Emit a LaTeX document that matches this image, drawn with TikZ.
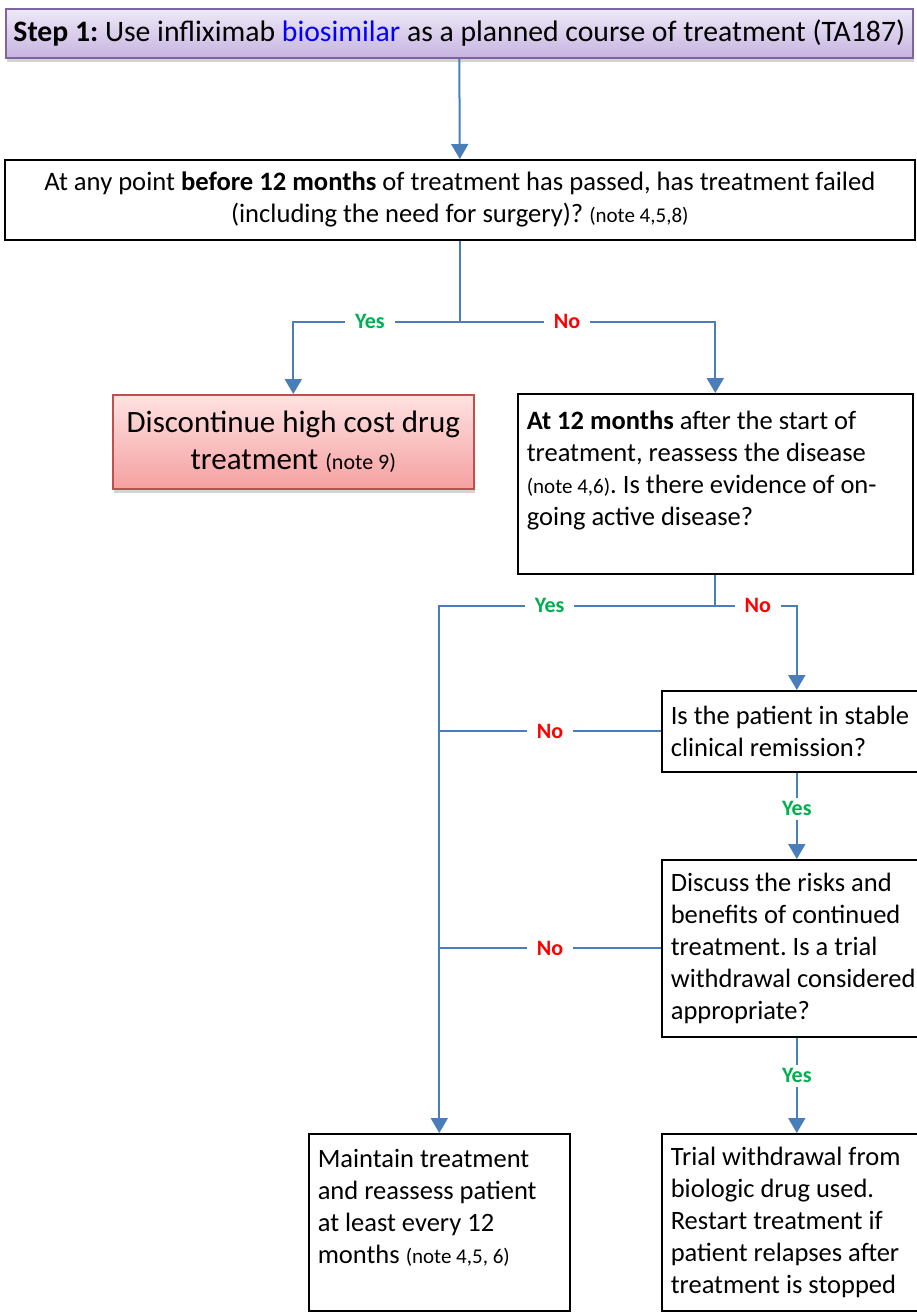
\documentclass[tikz,border=0pt]{standalone}
\usepackage{fontspec}
\setmainfont{Carlito}
\usetikzlibrary{arrows.meta,shadows,calc}
\definecolor{connc}{HTML}{4A7EBB}
\definecolor{yesc}{HTML}{00B050}
\definecolor{noc}{HTML}{FF0000}
\definecolor{bioc}{HTML}{0000FF}
\definecolor{stepborder}{HTML}{8064A2}
\definecolor{steptop}{HTML}{EEE9F7}
\definecolor{stepbot}{HTML}{C6B4E0}
\definecolor{discborder}{HTML}{C0504D}
\definecolor{disctop}{HTML}{FFE2E2}
\definecolor{discbot}{HTML}{F5A0A0}
\newcommand{\bodyfont}{\fontsize{26.5}{32}\selectfont}
\newcommand{\qonefont}{\fontsize{26.6}{32}\selectfont}
\newcommand{\stepfont}{\fontsize{29.7}{34}\selectfont}
\newcommand{\notefont}{\fontsize{21}{32}\selectfont}
\newcommand{\bigfont}{\fontsize{31}{37}\selectfont}
\newcommand{\bignote}{\fontsize{22}{37}\selectfont}
\begin{document}
\frenchspacing
\begin{tikzpicture}[x=1pt,y=-1pt,
  box/.style={draw=black, line width=1.6pt, anchor=north west, inner xsep=9pt, inner ysep=0pt, align=flush left, font=\bodyfont\frenchspacing},
  cbox/.style={box, align=flush center},
  stepbox/.style={draw=stepborder, line width=1.6pt, anchor=north west, inner sep=0pt, align=center, font=\stepfont,
     top color=steptop, bottom color=stepbot, drop shadow={opacity=0.35, shadow xshift=1pt, shadow yshift=-4pt}},
  discbox/.style={draw=discborder, line width=1.6pt, anchor=north west, inner sep=0pt, align=flush center, font=\bigfont,
     top color=disctop, bottom color=discbot, drop shadow={opacity=0.35, shadow xshift=1pt, shadow yshift=-4pt}},
  line/.style={draw=connc, line width=2pt},
  arr/.style={line, -{Triangle[width=17pt,length=15pt]}},
  lab/.style={fill=white, font=\bfseries\fontsize{22}{26}\selectfont, inner xsep=10pt, inner ysep=4pt},
  yes/.style={lab, text=yesc},
  no/.style={lab, text=noc}
]
\useasboundingbox (0,0) rectangle (917,1312);

\node[stepbox, minimum width=907pt, minimum height=49pt] (step) at (5,8)
  {\textbf{Step 1:} Use infliximab \textcolor{bioc}{biosimilar} as a planned course of treatment (TA187)};

\node[cbox, font=\qonefont\frenchspacing, minimum width=910pt, minimum height=80pt] (q1) at (4,159)
  {At any point \textbf{before 12 months} of treatment has passed, has treatment failed\\
   (including the need for surgery)? {\notefont(note 4,5,8)}};

\node[discbox, minimum width=361pt, minimum height=94pt] (disc) at (112,394)
  {Discontinue high cost drug\\treatment {\bignote(note 9)}};

\node[box, minimum width=395pt, minimum height=180pt, text width=377pt] (q2) at (517,393)
  {\textbf{At 12 months} after the start of\\
   treatment, reassess the disease\\
   {\notefont(note 4,6)}. Is there evidence of on-\\
   going active disease?\\\mbox{}};

\node[box, minimum width=270pt, minimum height=81pt, text width=252pt] (q3) at (661,690)
  {Is the patient in stable\\clinical remission?};

\node[box, minimum width=270pt, minimum height=177pt, text width=252pt] (q4) at (661,859)
  {Discuss the risks and\\benefits of continued\\treatment. Is a trial\\withdrawal considered\\appropriate?};

\node[box, minimum width=261pt, minimum height=177pt, text width=243pt] (maint) at (308,1133)
  {Maintain treatment\\and reassess patient\\at least every 12\\months {\notefont(note 4,5, 6)}\\\mbox{}};

\node[box, minimum width=270pt, minimum height=177pt, text width=252pt] (trial) at (661,1133)
  {Trial withdrawal from\\biologic drug used.\\Restart treatment if\\patient relapses after\\treatment is stopped};

% connectors
\draw[arr] (step.south) -- (q1.north);
\coordinate (j1) at ($(q1.south)+(0,81)$);
\draw[line] (q1.south) -- (j1);
\draw[arr] (j1) -| node[yes, pos=0.27]{Yes} (disc.north);
\draw[arr] (j1) -| node[no, pos=0.21]{No} (q2.north);

\coordinate (j2) at ($(q2.south)+(0,31)$);
\draw[line] (q2.south) -- (j2);
\draw[arr] (j2) -| node[yes, pos=0.30]{Yes} (maint.north);
\draw[arr] (j2) -| node[no, pos=0.26]{No} (q3.north);

\draw[line] (q3.west) -- node[no]{No} (q3.west -| maint.north);
\draw[arr] (q3.south) -- node[yes, pos=0.42]{Yes} (q4.north);
\draw[line] (q4.west) -- node[no]{No} (q4.west -| maint.north);
\draw[arr] (q4.south) -- node[yes, pos=0.40]{Yes} (trial.north);
\end{tikzpicture}
\end{document}
